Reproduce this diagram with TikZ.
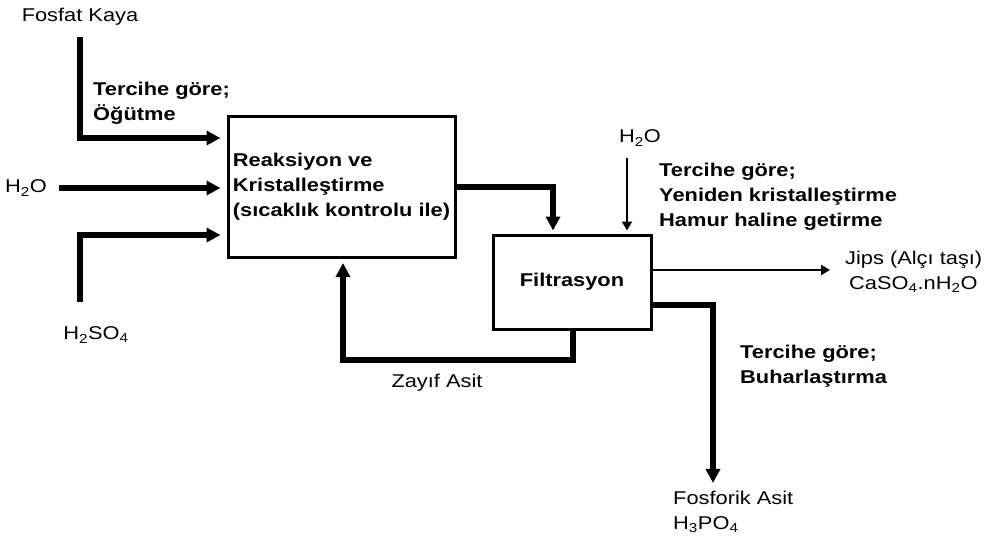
\documentclass[tikz,border=0pt]{standalone}
\usepackage{fontspec}
\setmainfont{Liberation Sans}[FakeStretch=1.18]
\usetikzlibrary{arrows.meta}
\tikzset{
  >={Triangle[length=14pt,width=14pt]},
  x=1pt, y=-1pt,
}
\tikzstyle{unit}=[draw,line width=3pt,rectangle,inner sep=0pt]
\tikzstyle{flow}=[line width=5.5pt,->]
\tikzstyle{thinflow}=[line width=2pt,-{Triangle[length=9pt,width=10pt]}]
\tikzstyle{every node}=[font=\fontsize{18.5}{25}\selectfont]
\tikzstyle{note}=[font=\fontsize{18.5}{25}\selectfont\bfseries,align=left,anchor=west,inner sep=0pt]
\begin{document}
\begin{tikzpicture}
  \useasboundingbox (0,0) rectangle (995,543);
  % units
  \node[unit,minimum width=227pt,minimum height=141pt,align=left,
    font=\fontsize{18.5}{25}\selectfont\bfseries] (reak) at (341.5,187)
    {Reaksiyon ve\\Kristalleştirme\\(sıcaklık kontrolu ile)};
  \node[unit,minimum width=158pt,minimum height=94pt,
    font=\fontsize{18.5}{25}\selectfont\bfseries] (filt) at (572,282) {Filtrasyon};
  % feeds
  \node (fosfat) at (80,17) {Fosfat Kaya};
  \node[note] (tercih1) at (93,103) {Tercihe göre;\\Öğütme};
  \node (h2oL) at (26,188) {H\textsubscript{2}O};
  \node (h2so4) at (96,335) {H\textsubscript{2}SO\textsubscript{4}};
  \coordinate (h2so4in) at (80,302);
  \draw[flow,shorten <=8pt,shorten >=6pt] (fosfat.south) |- ([yshift=49pt]reak.west);
  \draw[flow,shorten <=9pt,shorten >=6pt] (h2oL.east) -- (h2oL.east -| reak.west);
  \draw[flow,shorten >=6pt] (h2so4in) |- ([yshift=-48pt]reak.west);
  \draw[flow,shorten >=3pt] (reak.east) -| ([xshift=-19pt]filt.north);
  % filtration
  \node (h2oT) at (640,138) {H\textsubscript{2}O};
  \draw[thinflow,shorten <=8pt,shorten >=3pt] ([xshift=-13pt]h2oT.south)
    -- ([xshift=-13pt]h2oT.south |- filt.north);
  \node[note] (tercih2) at (659,197) {Tercihe göre;\\Yeniden kristalleştirme\\Hamur haline getirme};
  \node[anchor=west,align=left,inner sep=0pt] (jips) at (845,272)
    {Jips (Alçı taşı)\\\hspace*{4pt}CaSO\textsubscript{4}.nH\textsubscript{2}O};
  \draw[thinflow,shorten >=15pt] ([yshift=12pt]filt.east) -- ([yshift=12pt]filt.east -| jips.west);
  \node[anchor=west,align=left,inner sep=0pt] (fosforik) at (673,512)
    {Fosforik Asit\\H\textsubscript{3}PO\textsubscript{4}};
  \node[note] (tercih3) at (740,366) {Tercihe göre;\\Buharlaştırma};
  \draw[flow,shorten >=8pt] ([yshift=-23pt]filt.east) -| ([xshift=40pt]fosforik.north west);
  % recycle
  \node (zayif) at (437,383) {Zayıf Asit};
  \coordinate (ret) at (343,360);
  \draw[flow,shorten >=4pt] ([xshift=1pt]filt.south) |- (ret) -- (ret |- reak.south);
\end{tikzpicture}
\end{document}
